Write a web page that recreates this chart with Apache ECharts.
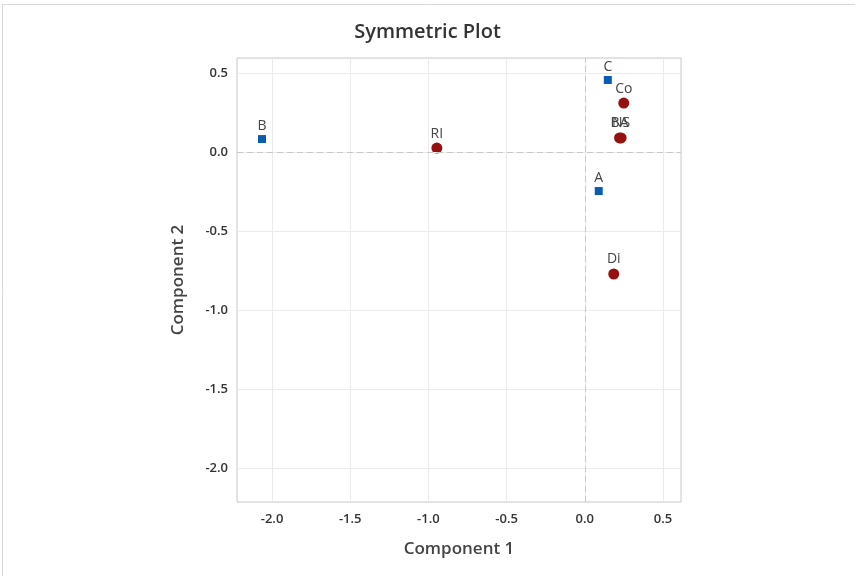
<!DOCTYPE html>
<html><head><meta charset="utf-8">
<script src="https://cdn.jsdelivr.net/npm/echarts@6/dist/echarts.min.js"></script>
<style>html,body{margin:0;padding:0;background:#fff}#c{width:855px;height:576px}</style>
</head><body><div id="c"></div>
<script>
const rowLabels = ['A', 'B', 'C'];
const rowX = [0.089, -2.064, 0.147];
const rowY = [-0.247, 0.082, 0.456];
const colLabels = ['RI', 'Co', 'BA', 'NS', 'Di'];
const colX = [-0.946, 0.249, 0.222, 0.232, 0.185];
const colY = [0.025, 0.310, 0.089, 0.089, -0.772];
const xTicks = [-2.0, -1.5, -1.0, -0.5, 0.0, 0.5];
const yTicks = [0.5, 0.0, -0.5, -1.0, -1.5, -2.0];
const xRange = [-2.224, 0.615];
const yRange = [-2.215, 0.595];

const font = '"Open Sans", "Noto Sans", sans-serif';
const chart = echarts.init(document.getElementById('c'), null, {renderer: 'canvas'});
const fmt = v => (Math.abs(v) < 1e-9 ? 0 : v).toFixed(1);
const axisCommon = {
  axisLine: {show: false},
  axisTick: {show: true, length: 4, lineStyle: {color: '#bbb'}},
  splitLine: {show: false},
  axisLabel: {color: '#333', fontSize: 13, fontFamily: font, fontWeight: 600, formatter: fmt, margin: 10},
  nameTextStyle: {color: '#444', fontSize: 17, fontFamily: font, fontWeight: 600},
  nameLocation: 'middle'
};
const gridLinesX = xTicks.map(v => ({xAxis: v, lineStyle: {color: '#ebebeb', type: 'solid', width: 1}}));
const gridLinesY = yTicks.map(v => ({yAxis: v, lineStyle: {color: '#ebebeb', type: 'solid', width: 1}}));
const labelStyle = {show: true, position: 'top', distance: 2, formatter: p => p.name, color: '#444', fontSize: 14, fontFamily: font};
const labelOffsets = {BA: [-4, 0], NS: [4, 0]};
chart.setOption({
  animation: false,
  title: {text: 'Symmetric Plot', left: 'center', top: 17,
    textStyle: {color: '#333', fontSize: 20, fontFamily: font, fontWeight: 600}},
  graphic: [{type: 'rect', shape: {x: 2.5, y: 4.5, width: 900, height: 700}, style: {fill: null, stroke: '#d9d9d9', lineWidth: 1}, silent: true}],
  grid: {left: 237, top: 58, width: 444, height: 444, show: true, borderColor: '#c8c8c8', borderWidth: 1, backgroundColor: '#fff'},
  xAxis: Object.assign({}, axisCommon, {
    type: 'value', min: xRange[0], max: xRange[1], name: 'Component 1', nameGap: 39,
    axisTick: Object.assign({}, axisCommon.axisTick, {customValues: xTicks}),
    axisLabel: Object.assign({}, axisCommon.axisLabel, {customValues: xTicks, margin: 11})
  }),
  yAxis: Object.assign({}, axisCommon, {
    type: 'value', min: yRange[0], max: yRange[1], name: 'Component 2', nameGap: 50,
    axisTick: Object.assign({}, axisCommon.axisTick, {customValues: yTicks}),
    axisLabel: Object.assign({}, axisCommon.axisLabel, {customValues: yTicks, margin: 9})
  }),
  series: [
    {type: 'scatter', name: 'grid', data: [], silent: true,
      markLine: {silent: true, symbol: 'none', label: {show: false}, animation: false,
        data: gridLinesX.concat(gridLinesY).concat([
          {xAxis: 0, lineStyle: {color: '#c8c8c8', type: [6, 4], width: 1}},
          {yAxis: 0, lineStyle: {color: '#c8c8c8', type: [6, 4], width: 1}}
        ])}},
    {type: 'scatter', name: 'Rows', symbol: 'rect', symbolSize: 8,
      itemStyle: {color: '#0a5cb0', opacity: 1},
      data: rowLabels.map((l, i) => ({name: l, value: [rowX[i], rowY[i]]})),
      label: labelStyle},
    {type: 'scatter', name: 'Columns', symbol: 'circle', symbolSize: 11,
      itemStyle: {color: '#971010', opacity: 1},
      data: colLabels.map((l, i) => {
        const d = {name: l, value: [colX[i], colY[i]]};
        if (labelOffsets[l]) d.label = {offset: labelOffsets[l]};
        return d;
      }),
      labelLayout: {hideOverlap: false},
      label: labelStyle}
  ]
});
</script></body></html>
